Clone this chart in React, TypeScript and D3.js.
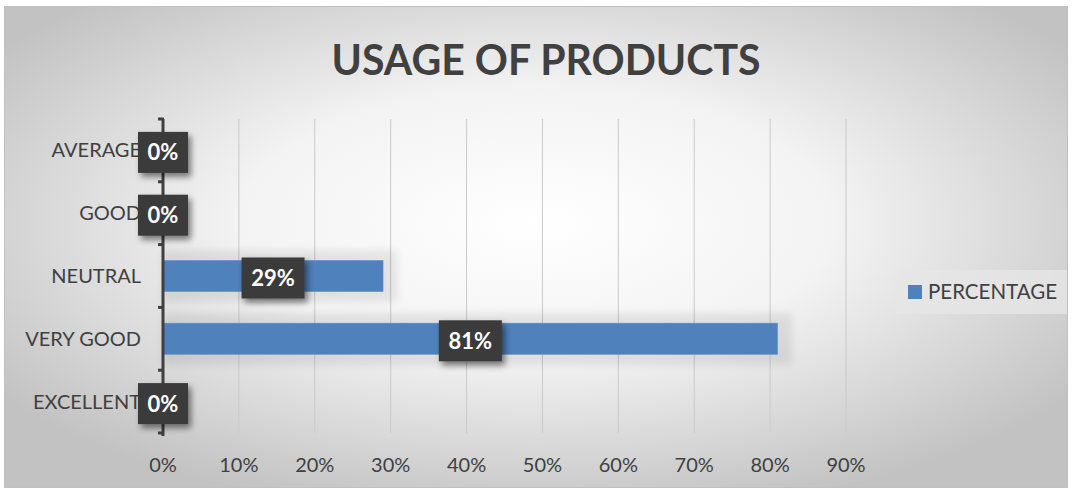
import React from "react";
import * as d3 from "d3";

const categories = ["AVERAGE", "GOOD", "NEUTRAL", "VERY GOOD", "EXCELLENT"];
const percentages = [0, 0, 0.29, 0.81, 0];
const xTicks = [0, 0.1, 0.2, 0.3, 0.4, 0.5, 0.6, 0.7, 0.8, 0.9];
const seriesName = "PERCENTAGE";
const title = "USAGE OF PRODUCTS";

const W = 1072;
const H = 491;
const FONT = "Lato, 'Open Sans', sans-serif";
const TXT = "#404040";
const BAR = "#4f81bd";

export default function App() {
  const x = d3.scaleLinear().domain([0, 0.9]).range([163, 846]);
  const y = d3.scaleBand().domain(categories).range([119, 433]).paddingInner(0.5).paddingOuter(0.25);
  const fmt = d3.format(".0%");
  const data = categories.map((c, i) => ({ c, v: percentages[i] }));
  const tickStep = (433 - 119) / categories.length;

  return (
    <div style={{ position: "absolute", left: 0, top: 0 }}>
      <svg width={W} height={H} style={{ display: "block" }}>
        <defs>
          <radialGradient id="bg" cx="0.5" cy="0.45" r="0.62" fx="0.5" fy="0.45">
            <stop offset="0" stopColor="#ffffff" />
            <stop offset="0.45" stopColor="#f3f3f3" />
            <stop offset="1" stopColor="#c2c2c2" />
          </radialGradient>
          <filter id="blur" x="-20%" y="-60%" width="140%" height="220%">
            <feGaussianBlur stdDeviation="4" />
          </filter>
          <filter id="lblshadow" x="-40%" y="-40%" width="180%" height="180%">
            <feGaussianBlur in="SourceAlpha" stdDeviation="3" />
            <feOffset dx="3" dy="4" result="b" />
            <feComponentTransfer><feFuncA type="linear" slope="0.5" /></feComponentTransfer>
            <feMerge>
              <feMergeNode />
              <feMergeNode in="SourceGraphic" />
            </feMerge>
          </filter>
        </defs>
        <rect x={0} y={0} width={W} height={H} fill="#ffffff" />
        <rect x={4.5} y={6.5} width={1063} height={481} fill="url(#bg)" stroke="#c0c0c0" strokeWidth={1} />

        <text x={546} y={75} textAnchor="middle" fontFamily={FONT} fontWeight={700} fontSize={42} fill={TXT} textLength={429} lengthAdjust="spacingAndGlyphs">
          {title}
        </text>

        {xTicks.slice(1).map((t) => (
          <line key={t} x1={x(t)} x2={x(t)} y1={119} y2={433} stroke="#c9c9c9" strokeWidth={1} />
        ))}

        {data.filter((d) => d.v > 0).map((d) => (
          <rect key={"g" + d.c} x={x(0)} y={(y(d.c) as number) - 10} width={x(d.v) - x(0) + 14} height={y.bandwidth() + 20} fill="#000" opacity={0.08} filter="url(#blur)" />
        ))}

        {data.map((d) => (
          <rect key={d.c} x={x(0)} y={y(d.c) as number} width={x(d.v) - x(0)} height={y.bandwidth()} fill={BAR} stroke="#6d98cc" strokeWidth={0.5} />
        ))}

        <line x1={163} x2={163} y1={119} y2={436} stroke={TXT} strokeWidth={3} />
        {d3.range(categories.length + 1).map((i) => {
          const ty = 119 + i * tickStep;
          return <line key={"t" + i} x1={158} x2={164} y1={ty} y2={ty} stroke={TXT} strokeWidth={3} />;
        })}

        {data.map((d) => (
          <text key={"c" + d.c} x={141} y={(y(d.c) as number) + y.bandwidth() / 2} dy="0.35em" textAnchor="end" fontFamily={FONT} fontSize={20} fill={TXT}>
            {d.c}
          </text>
        ))}

        {xTicks.map((t) => (
          <text key={"x" + t} x={x(t)} y={465} dy="0.35em" textAnchor="middle" fontFamily={FONT} fontSize={20} fill={TXT}>
            {fmt(t)}
          </text>
        ))}

        {data.map((d) => {
          const s = fmt(d.v);
          const bw = 24 + 13 * s.length;
          const cx = (x(0) + x(d.v)) / 2;
          const cy = (y(d.c) as number) + y.bandwidth() / 2 + 2;
          return (
            <g key={"l" + d.c}>
              <rect x={cx - bw / 2} y={cy - 20.5} width={bw} height={41} fill="#3a3a3a" filter="url(#lblshadow)" />
              <text x={cx} y={cy} dy="0.36em" textAnchor="middle" fontFamily={FONT} fontWeight={700} fontSize={22} fill="#ffffff">
                {s}
              </text>
            </g>
          );
        })}

        <rect x={896} y={270} width={171} height={44} fill="#e6e6e6" opacity={0.8} />
        <rect x={908} y={285} width={14} height={14} fill={BAR} />
        <text x={928} y={292} dy="0.36em" fontFamily={FONT} fontSize={20.5} fill={TXT}>
          {seriesName}
        </text>
      </svg>
    </div>
  );
}
